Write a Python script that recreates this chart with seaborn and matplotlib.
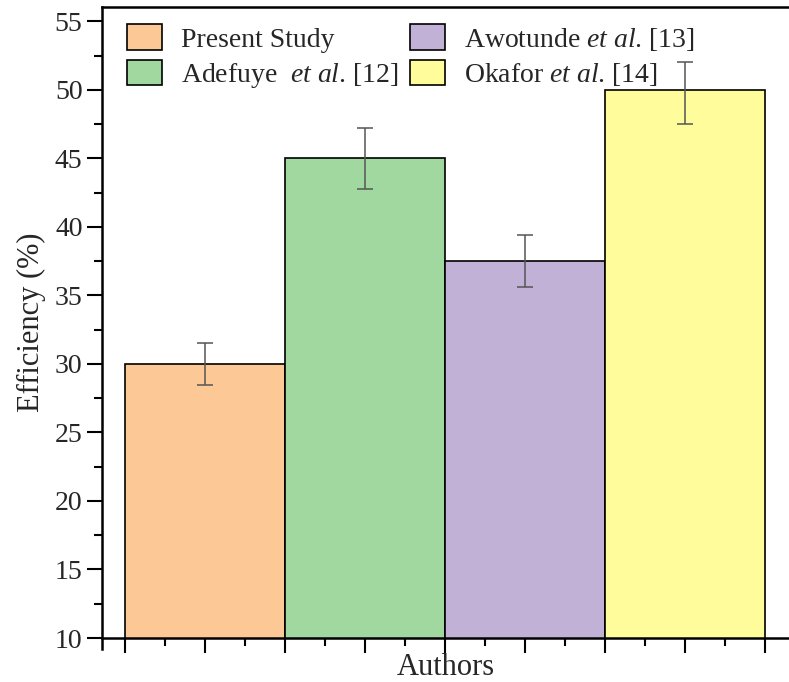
import numpy as np
import pandas as pd
import matplotlib
matplotlib.use("Agg")
import matplotlib.pyplot as plt
from matplotlib.patches import Patch
from matplotlib.ticker import MultipleLocator
import seaborn as sns

# Data
authors = ["Present Study", "Adefuye et al. [12]", "Awotunde et al. [13]", "Okafor et al. [14]"]
legend_labels = ["Present Study", r"Adefuye  $\it{et\ al}$. [12]",
                 r"Awotunde $\it{et\ al}$. [13]", r"Okafor $\it{et\ al}$. [14]"]
efficiency = [30.0, 45.0, 37.5, 50.0]
err_low = [1.5, 2.2, 1.9, 2.5]
err_high = [1.5, 2.2, 1.9, 2.0]
colors = ["#FCC896", "#A0D89F", "#C2B1D6", "#FFFD9B"]

sns.set_style("ticks")
plt.rcParams["font.family"] = ["Liberation Serif", "DejaVu Serif"]
plt.rcParams["mathtext.fontset"] = "custom"
plt.rcParams["mathtext.rm"] = "Liberation Serif"
plt.rcParams["mathtext.it"] = "Liberation Serif:italic"

df = pd.DataFrame({"Author": authors, "Efficiency": efficiency})

fig = plt.figure(figsize=(7.89, 6.82), dpi=100)
ax = fig.add_axes([102 / 789, 44 / 682, 1 - 102 / 789, 631 / 682])

sns.barplot(data=df, x="Author", y="Efficiency", hue="Author", palette=colors,
            saturation=1, width=1.0, edgecolor="black", linewidth=1.2,
            errorbar=None, legend=False, ax=ax)

ax.errorbar(np.arange(len(authors)), efficiency, yerr=[err_low, err_high],
            fmt="none", ecolor="#555555", elinewidth=1.1, capsize=6, capthick=1.1)

ax.set_ylim(10, 56.05)
ax.set_xlim(-0.644, 3.65)

ax.yaxis.set_major_locator(MultipleLocator(5))
ax.yaxis.set_minor_locator(MultipleLocator(2.5))
ax.set_xticks(np.arange(-0.5, 3.6, 0.5))
ax.set_xticks(np.arange(-0.25, 3.5, 0.5), minor=True)
ax.set_xticklabels([])

ax.tick_params(axis="both", which="major", direction="out", length=11, width=1.5,
               labelsize=20, color="black")
ax.tick_params(axis="both", which="minor", direction="out", length=6, width=1.5,
               color="black")
ax.tick_params(axis="y", pad=3)
ax.tick_params(axis="x", pad=0)

for side in ["left", "bottom", "top"]:
    ax.spines[side].set_linewidth(1.8)
    ax.spines[side].set_color("black")
ax.spines["right"].set_visible(False)
ax.spines["left"].set_bounds(9.2, 56.05)

ax.set_xlabel("Authors", fontsize=22, labelpad=0)
ax.set_ylabel("Efficiency (%)", fontsize=22, labelpad=6)

handles = [Patch(facecolor=c, edgecolor="black", linewidth=1.2) for c in colors]
ax.legend(handles, legend_labels, ncol=2, loc="upper left", frameon=False,
          fontsize=20, handlelength=1.25, handleheight=1.05, handletextpad=0.7,
          columnspacing=0.4, labelspacing=0.25, borderaxespad=0.5,
          bbox_to_anchor=(0.0, 1.012))

fig.savefig("out.png", dpi=100)
plt.close(fig)
